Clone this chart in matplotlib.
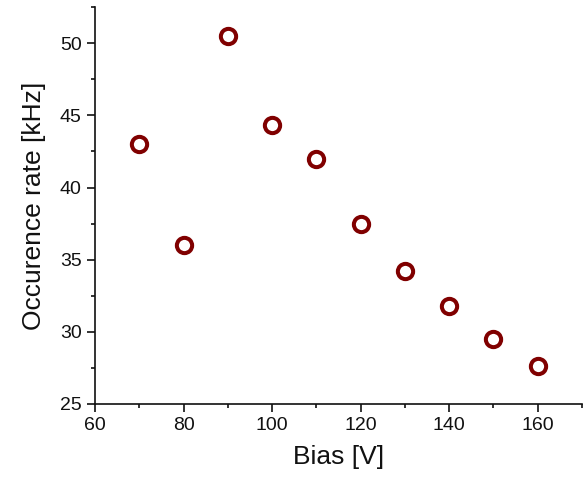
import matplotlib
matplotlib.use("Agg")
import matplotlib.pyplot as plt
from matplotlib.ticker import MultipleLocator

bias = [70, 80, 90, 100, 110, 120, 130, 140, 150, 160]
rate = [43.0, 36.0, 50.5, 44.3, 42.0, 37.5, 34.2, 31.8, 29.5, 27.6]

plt.rcParams['font.family'] = ['Liberation Sans', 'DejaVu Sans']

fig = plt.figure(figsize=(5.83, 4.78), dpi=100)
ax = fig.add_axes([0.163, 0.155, 0.835, 0.83])
ax.plot(bias, rate, linestyle='none', marker='o', markersize=11, markerfacecolor='white',
        markeredgecolor='#800000', markeredgewidth=2.9)

ax.set_xlim(60, 170)
ax.set_ylim(25, 52.5)
ax.xaxis.set_major_locator(MultipleLocator(20))
ax.xaxis.set_minor_locator(MultipleLocator(10))
ax.yaxis.set_major_locator(MultipleLocator(5))
ax.yaxis.set_minor_locator(MultipleLocator(2.5))
for s in ['top', 'right']:
    ax.spines[s].set_visible(False)
for s in ['left', 'bottom']:
    ax.spines[s].set_linewidth(1.2)
    ax.spines[s].set_color('#111111')
ax.tick_params(which='major', direction='out', length=5.5, width=1.2, labelsize=14,
               colors='#111111', pad=4)
ax.tick_params(which='minor', direction='out', length=3, width=1.2, colors='#111111')
ax.set_xlabel('Bias [V]', fontsize=19, color='#111111', labelpad=8)
ax.set_ylabel('Occurence rate [kHz]', fontsize=19, color='#111111', labelpad=10)

fig.savefig('out.png', dpi=100)
